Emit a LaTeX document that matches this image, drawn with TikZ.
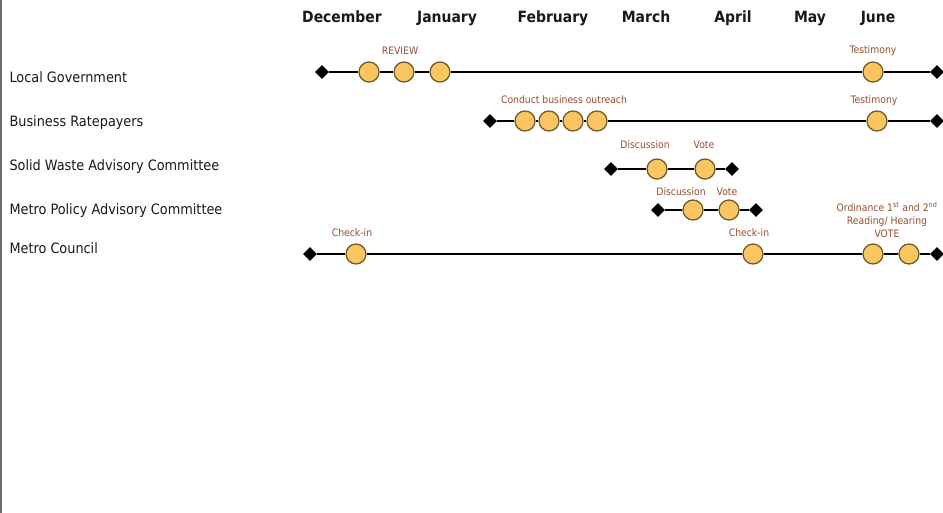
\documentclass[tikz,border=0pt]{standalone}
\usepackage{fontspec}
\setmainfont{DejaVu Sans Condensed}
\usetikzlibrary{shapes.geometric}
\definecolor{dotfill}{RGB}{250,198,98}
\definecolor{dotedge}{RGB}{110,85,35}
\definecolor{labcol}{RGB}{150,78,48}
\definecolor{rowtext}{RGB}{25,25,25}
\definecolor{edgegray}{RGB}{110,110,110}
\tikzset{
  mile/.style={circle,draw=dotedge,fill=dotfill,line width=1.2pt,minimum size=20pt,inner sep=0pt},
  endpt/.style={diamond,fill=black,minimum width=14pt,minimum height=14pt,inner sep=0pt},
  bar/.style={line width=2.3pt,black},
  month/.style={font=\fontsize{15.5}{17}\selectfont\bfseries,text=rowtext,anchor=base},
  rowlab/.style={font=\fontsize{14.3}{16}\selectfont,text=rowtext,anchor=base west},
  evlab/.style={font=\fontsize{10.3}{12}\selectfont,text=labcol,align=center}
}
\begin{document}
\begin{tikzpicture}[x=1pt,y=-1pt]
\useasboundingbox (0,0) rectangle (943,513);
\fill[white] (0,0) rectangle (943,513);
\draw[edgegray,line width=1.5pt] (0.75,0) -- (0.75,513);

% months
\node[month] (mDec) at (342,23) {December};
\node[month] (mJan) at (447,23) {January};
\node[month] (mFeb) at (553,23) {February};
\node[month] (mMar) at (646,23) {March};
\node[month] (mApr) at (733,23) {April};
\node[month] (mMay) at (810,23) {May};
\node[month] (mJun) at (878,23) {June};

% row labels
\node[rowlab] (rLG) at (6,82.5) {Local Government};
\node[rowlab] (rBR) at (6,126.5) {Business Ratepayers};
\node[rowlab] (rSW) at (6,170.5) {Solid Waste Advisory Committee};
\node[rowlab] (rMP) at (6,214.5) {Metro Policy Advisory Committee};
\node[rowlab] (rMC) at (6,253.5) {Metro Council};

% row 1: Local Government
\node[endpt] (a0) at (322,72) {};
\node[mile] (a1) at (369,72) {};
\node[mile] (a2) at (404,72) {};
\node[mile] (a3) at (440,72) {};
\node[mile] (a4) at (873,72) {};
\node[endpt] (a5) at (937,72) {};
\draw[bar] (a0) -- (a1) (a1) -- (a2) (a2) -- (a3) (a3) -- (a4) (a4) -- (a5);
\node[evlab] (aL1) at (400,51) {REVIEW};
\node[evlab] (aL2) at (873,51) {Testimony};

% row 2: Business Ratepayers
\node[endpt] (b0) at (490,121) {};
\node[mile] (b1) at (525,121) {};
\node[mile] (b2) at (549,121) {};
\node[mile] (b3) at (573,121) {};
\node[mile] (b4) at (597,121) {};
\node[mile] (b5) at (877,121) {};
\node[endpt] (b6) at (937,121) {};
\draw[bar] (b0) -- (b1) (b1) -- (b2) (b2) -- (b3) (b3) -- (b4) (b4) -- (b5) (b5) -- (b6);
\node[evlab] (bL1) at (564,100) {Conduct business outreach};
\node[evlab] (bL2) at (874,101) {Testimony};

% row 3: SWAC
\node[endpt] (c0) at (611,169) {};
\node[mile] (c1) at (657,169) {};
\node[mile] (c2) at (705,169) {};
\node[endpt] (c3) at (732,169) {};
\draw[bar] (c0) -- (c1) (c1) -- (c2) (c2) -- (c3);
\node[evlab] (cL1) at (645,145) {Discussion};
\node[evlab] (cL2) at (704,145) {Vote};

% row 4: MPAC
\node[endpt] (d0) at (658,210) {};
\node[mile] (d1) at (693,210) {};
\node[mile] (d2) at (729,210) {};
\node[endpt] (d3) at (756,210) {};
\draw[bar] (d0) -- (d1) (d1) -- (d2) (d2) -- (d3);
\node[evlab] (dL1) at (681,192) {Discussion};
\node[evlab] (dL2) at (727,192) {Vote};

% row 5: Metro Council
\node[endpt] (e0) at (310,254) {};
\node[mile] (e1) at (356,254) {};
\node[mile] (e2) at (753,254) {};
\node[mile] (e3) at (873,254) {};
\node[mile] (e4) at (909,254) {};
\node[endpt] (e5) at (937,254) {};
\draw[bar] (e0) -- (e1) (e1) -- (e2) (e2) -- (e3) (e3) -- (e4) (e4) -- (e5);
\node[evlab] (eL1) at (352,233) {Check-in};
\node[evlab] (eL2) at (749,233) {Check-in};
\node[evlab,font=\fontsize{10.3}{13.3}\selectfont] (eL3) at (887,220) {Ordinance 1\textsuperscript{st} and 2\textsuperscript{nd}\\Reading/ Hearing\\VOTE};
\end{tikzpicture}
\end{document}
